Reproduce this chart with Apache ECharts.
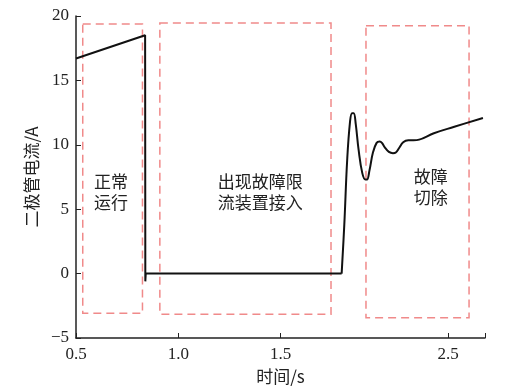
<!DOCTYPE html>
<html><head><meta charset="utf-8">
<script src="https://cdn.jsdelivr.net/npm/echarts@6/dist/echarts.min.js"></script>
<style>html,body{margin:0;padding:0;background:#fff}#c{width:507px;height:390px}</style>
</head><body><div id="c"></div>
<script>
// Segment 1: normal operation + drop (straight segments)
const seg1X = [0.5, 0.838, 0.839, 0.841, 1.799];
const seg1Y = [16.7, 18.5, -0.6, 0, 0];
// Segment 2: recovery oscillation after fault removal (smoothed)
const seg2X = [1.799, 1.812, 1.826, 1.840, 1.850, 1.858, 1.868, 1.882, 1.900, 1.915, 1.923, 1.935, 1.952, 1.970, 1.985, 1.996, 2.010, 2.030, 2.050, 2.064, 2.080, 2.100, 2.125, 2.150, 2.178, 2.250, 2.350, 2.490];
const seg2Y = [0, 3.8, 8.8, 11.8, 12.45, 12.45, 11.6, 9.6, 7.8, 7.3, 7.3, 8.0, 9.4, 10.15, 10.25, 10.15, 9.8, 9.45, 9.35, 9.4, 9.75, 10.2, 10.35, 10.35, 10.4, 10.9, 11.4, 12.08];
// Annotation boxes [x0, x1, y0, y1]
const boxes = [[0.533, 0.825, 19.37, -3.08], [0.91, 1.747, 19.45, -3.16], [1.918, 2.422, 19.25, -3.42]];
// Annotation texts [x, y, text]
const notes = [[0.671, 6.3, '正常\n运行'], [1.401, 6.3, '出现故障限\n流装置接入'], [2.235, 6.7, '故障\n切除']];
// Axis ticks
const xTickValues = [0.5, 1.0, 1.5, 2.32, 2.5];
const xLabelValues = [0.5, 1.0, 1.5, 2.32];
const xLabelText = ['0.5', '1.0', '1.5', '2.5'];
const yMin = -5, yMax = 20, yStep = 5;

const serif = '"Liberation Serif", "Noto Sans CJK SC", serif';
const cjk = '"Noto Sans CJK SC", sans-serif';
const boxColor = '#f08a8a';

const chart = echarts.init(document.getElementById('c'));
chart.setOption({
  animation: false,
  backgroundColor: '#fff',
  grid: { left: 76, right: 22, top: 16, bottom: 52 },
  xAxis: {
    type: 'value', min: 0.5, max: 2.5,
    name: '时间/s', nameLocation: 'middle', nameGap: 30,
    nameTextStyle: { fontFamily: cjk, fontSize: 17, color: '#222' },
    axisLine: { onZero: false, lineStyle: { color: '#222', width: 1.5 } },
    axisTick: { inside: true, length: 5, customValues: xTickValues, lineStyle: { color: '#222' } },
    axisLabel: {
      customValues: xLabelValues, fontFamily: serif, fontSize: 17, color: '#222', margin: 8,
      formatter: v => { const i = xLabelValues.findIndex(t => Math.abs(t - v) < 1e-6); return i >= 0 ? xLabelText[i] : ''; }
    },
    splitLine: { show: false }
  },
  yAxis: {
    type: 'value', min: yMin, max: yMax, interval: yStep,
    name: '二极管电流/A', nameLocation: 'middle', nameGap: 32, nameRotate: 90,
    nameTextStyle: { fontFamily: cjk, fontSize: 17, color: '#222' },
    axisLine: { show: true, lineStyle: { color: '#222', width: 1.5 } },
    axisTick: { show: true, inside: true, length: 5, lineStyle: { color: '#222' } },
    axisLabel: { fontFamily: serif, fontSize: 17, color: '#222', margin: 7, formatter: v => String(v).replace('-', '\u2212') },
    splitLine: { show: false }
  },
  series: [
    {
      type: 'line', data: seg1X.map((x, i) => [x, seg1Y[i]]), symbol: 'none',
      lineStyle: { color: '#111', width: 2 },
      markArea: {
        silent: true,
        itemStyle: { color: 'rgba(0,0,0,0)', borderColor: boxColor, borderWidth: 1.5, borderType: [8, 5] },
        data: boxes.map(b => [{ coord: [b[0], b[2]] }, { coord: [b[1], b[3]] }])
      },
      markPoint: {
        silent: true, symbol: 'circle', symbolSize: 0,
        label: { show: true, position: 'inside', fontFamily: cjk, fontSize: 17, color: '#222', lineHeight: 21, formatter: p => p.data.txt },
        data: notes.map(n => ({ coord: [n[0], n[1]], txt: n[2], value: 0 }))
      }
    },
    {
      type: 'line', data: seg2X.map((x, i) => [x, seg2Y[i]]), symbol: 'none', smooth: 0.4,
      lineStyle: { color: '#111', width: 2 }
    }
  ]
});
</script></body></html>
